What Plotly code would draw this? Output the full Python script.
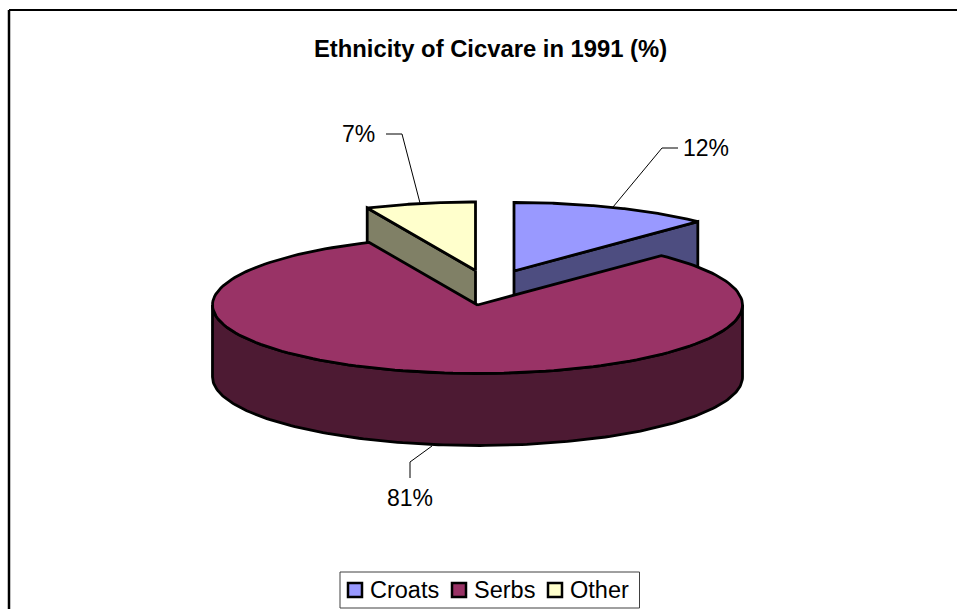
import numpy as np
import plotly.graph_objects as go

# Data
categories = ["Croats", "Serbs", "Other"]
values = [12.2, 81.1, 6.7]
top_colors = ["#9999FF", "#993366", "#FFFFCC"]
side_colors = ["#4D4D80", "#4D1A33", "#808066"]
title_text = "Ethnicity of Cicvare in 1991 (%)"

# Layout constants (axes run in page pixels)
W, H = 957, 609
RX, RY, DEPTH = 265, 68.5, 72
apexes = {"Croats": (514, 271), "Serbs": (477.5, 305), "Other": (475.5, 270.5)}
label_pos = {"Croats": (706, 148), "Serbs": (410, 498), "Other": (358, 134)}
leaders = {
    "Croats": ([613, 662, 678], [207, 148, 148]),
    "Serbs": ([432, 410, 410], [446, 462, 478]),
    "Other": ([420, 402, 386], [203, 134, 134]),
}
legend_marker_x = {"Croats": 355, "Serbs": 459, "Other": 555}
legend_text_x = {"Croats": 369, "Serbs": 473, "Other": 569}
legend_y = 590

fig = go.Figure()


def rim(cx, cy, a0, a1, n=160):
    t = np.radians(np.linspace(a0, a1, n))
    return cx + RX * np.sin(t), cy - RY * np.cos(t)


def poly(x, y, color):
    fig.add_trace(go.Scatter(
        x=np.append(x, x[0]), y=np.append(y, y[0]), mode="lines", fill="toself",
        fillcolor=color, line=dict(color="black", width=2.8, shape="linear"),
        showlegend=False, hoverinfo="skip",
    ))


# clockwise angle spans from 12 o'clock
edges = np.concatenate([[0], np.cumsum(values)]) / sum(values) * 360
spans = {c: (edges[i], edges[i + 1]) for i, c in enumerate(categories)}
color_of = {c: (top_colors[i], side_colors[i]) for i, c in enumerate(categories)}

for name in ["Other", "Croats", "Serbs"]:
    a0, a1 = spans[name]
    cx, cy = apexes[name]
    top, side = color_of[name]
    # visible cut faces of the exploded back slices
    if name == "Croats":
        rx_, ry_ = rim(cx, cy, a1, a1, 1)
        poly(np.array([cx, rx_[0], rx_[0], cx]), np.array([cy, ry_[0], ry_[0] + DEPTH, cy + DEPTH]), side)
    if name == "Other":
        rx_, ry_ = rim(cx, cy, a0, a0, 1)
        poly(np.array([cx, rx_[0], rx_[0], cx]), np.array([cy, ry_[0], ry_[0] + DEPTH, cy + DEPTH]), side)
    # outer wall (front half of the rim)
    w0, w1 = max(a0, 90), min(a1, 270)
    if w1 > w0:
        wx, wy = rim(cx, cy, w0, w1)
        poly(np.concatenate([wx, wx[::-1]]), np.concatenate([wy, wy[::-1] + DEPTH]), side)
    # top face
    tx, ty = rim(cx, cy, a0, a1)
    poly(np.concatenate([[cx], tx]), np.concatenate([[cy], ty]), top)

# leader lines and data labels
annotations = []
for name, val in zip(categories, values):
    lx, ly = leaders[name]
    fig.add_trace(go.Scatter(x=lx, y=ly, mode="lines", line=dict(color="black", width=1),
                             showlegend=False, hoverinfo="skip"))
    px, py = label_pos[name]
    annotations.append(dict(x=px, y=py, xref="x", yref="y", text=f"{round(val)}%", showarrow=False,
                            font=dict(family="Liberation Sans", size=23, color="black")))

annotations.append(dict(x=490.5, y=48.5, xref="x", yref="y", text=f"<b>{title_text}</b>", showarrow=False,
                        font=dict(family="Liberation Sans", size=23.8, color="black")))

# chart area frame and legend box
shapes = [
    dict(type="line", xref="x", yref="y", x0=9, y0=10, x1=W, y1=10, line=dict(color="black", width=2)),
    dict(type="line", xref="x", yref="y", x0=9, y0=10, x1=9, y1=H, line=dict(color="black", width=2.5)),
    dict(type="rect", xref="x", yref="y", x0=340, y0=572, x1=639.5, y1=608,
         line=dict(color="#404040", width=1), fillcolor="white", layer="below"),
]

# legend entries
for name, col in zip(categories, top_colors):
    fig.add_trace(go.Scatter(
        x=[legend_marker_x[name]], y=[legend_y], mode="markers", name=name,
        marker=dict(symbol="square", size=14, color=col, line=dict(color="black", width=2.5)),
        showlegend=False, hoverinfo="skip", cliponaxis=False,
    ))
    annotations.append(dict(x=legend_text_x[name], y=legend_y, xref="x", yref="y", text=name,
                            xanchor="left", showarrow=False, xshift=-1,
                            font=dict(family="Liberation Sans", size=23.5, color="black")))

fig.update_layout(
    width=W, height=H, autosize=False,
    margin=dict(l=0, r=0, t=0, b=0),
    paper_bgcolor="white", plot_bgcolor="white",
    xaxis=dict(range=[0, W], visible=False, fixedrange=True),
    yaxis=dict(range=[H, 0], visible=False, fixedrange=True),
    annotations=annotations, shapes=shapes,
    showlegend=False,
)

fig.write_html("out.html", config={"displayModeBar": False},
               post_script="document.body.style.margin='0';document.documentElement.style.overflow='hidden';")
